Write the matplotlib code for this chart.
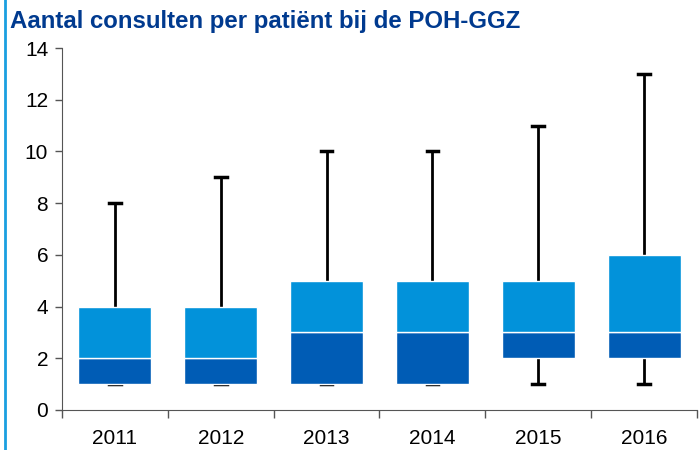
import matplotlib
matplotlib.use("Agg")
import matplotlib.pyplot as plt
from matplotlib.lines import Line2D
import numpy as np

# --- Data ---
years = ['2011', '2012', '2013', '2014', '2015', '2016']
mins = [1, 1, 1, 1, 1, 1]
q1 = [1, 1, 1, 1, 2, 2]
median = [2, 2, 3, 3, 3, 3]
q3 = [4, 4, 5, 5, 5, 6]
maxs = [8, 9, 10, 10, 11, 13]

dark_blue = '#005cb5'
light_blue = '#0292da'
title_blue = '#003a8f'

plt.rcParams['font.family'] = ['Liberation Sans', 'DejaVu Sans']

fig = plt.figure(figsize=(7, 4.5), dpi=100)
ax = fig.add_axes([0.0886, 0.0889, 0.907, 0.8044])

x = np.arange(len(years))
w = 0.69

# --- Whiskers ---
for i in x:
    ax.plot([i, i], [q3[i], maxs[i]], color='black', lw=2, zorder=1)
    ax.plot([i, i], [mins[i], q1[i]], color='black', lw=2, zorder=1)
    ax.plot([i - 0.055, i + 0.055], [maxs[i], maxs[i]], color='black', lw=2.5, zorder=1)
    ax.plot([i - 0.055, i + 0.055], [mins[i], mins[i]], color='black', lw=2.5, zorder=1)

# --- Boxes ---
lower = np.array(median) - np.array(q1)
upper = np.array(q3) - np.array(median)
ax.bar(x, lower, w, bottom=q1, color=dark_blue, edgecolor='white', lw=1, zorder=2)
ax.bar(x, upper, w, bottom=median, color=light_blue, edgecolor='white', lw=1, zorder=2)

# --- Axes ---
ax.set_xlim(-0.5, len(years) - 0.5)
ax.set_ylim(0, 14)
ax.set_yticks(range(0, 15, 2))
ax.set_xticks(x)
ax.set_xticklabels(years)
ax.set_xticks(np.arange(-0.5, len(years)), minor=True)
ax.tick_params(axis='x', which='major', length=0, labelsize=15, pad=14)
ax.tick_params(axis='x', which='minor', length=6, color='#555555', width=1)
ax.tick_params(axis='y', labelsize=15, length=5, color='#555555', width=1, pad=5)
for s in ['top', 'right']:
    ax.spines[s].set_visible(False)
for s in ['left', 'bottom']:
    ax.spines[s].set_color('#555555')

fig.text(0.014, 0.953, 'Aantal consulten per patiënt bij de POH-GGZ',
         fontsize=17.3, fontweight='bold', color=title_blue, va='center')

# blue border line at the left
fig.add_artist(Line2D([0.007, 0.007], [0, 1], color='#1a9fe0', lw=2))

fig.savefig('out.png', dpi=100)
